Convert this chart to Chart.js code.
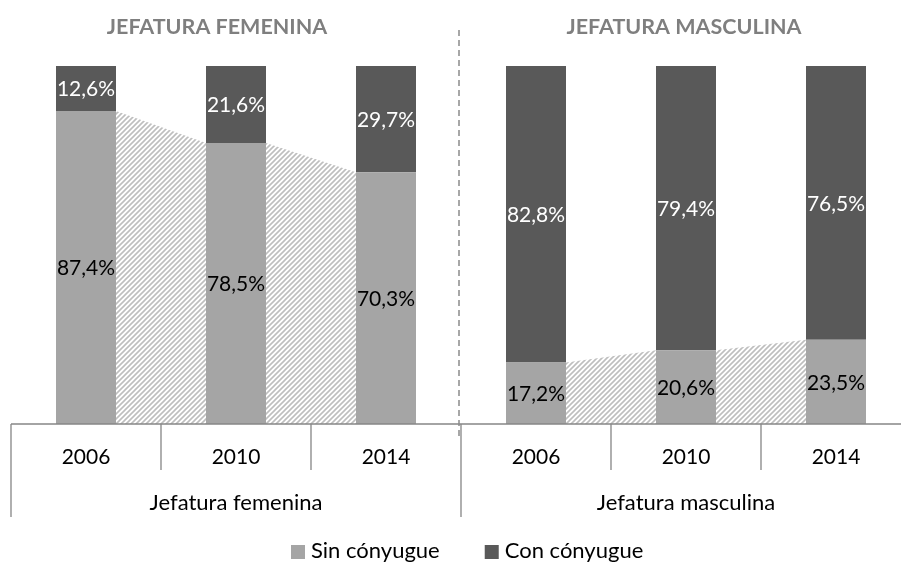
<!DOCTYPE html>
<html>
<head>
<meta charset="utf-8">
<script src="https://cdn.jsdelivr.net/npm/chart.js@4.4.1/dist/chart.umd.min.js"></script>
<style>
  html, body { margin: 0; padding: 0; background: #fff; overflow: hidden; }
  #wrap { width: 911px; height: 562px; }
</style>
</head>
<body>
<div id="wrap"><canvas id="chart"></canvas></div>
<script>
const years = ["2006", "2010", "2014", "2006", "2010", "2014"];
const groupOf = [0, 0, 0, 1, 1, 1];
const groups = ["Jefatura femenina", "Jefatura masculina"];
const groupTitles = ["JEFATURA FEMENINA", "JEFATURA MASCULINA"];
const sinConyugue = [87.4, 78.5, 70.3, 17.2, 20.6, 23.5];
const conConyugue = [12.6, 21.6, 29.7, 82.8, 79.4, 76.5];

const FONT = "Lato, 'Open Sans', sans-serif";
const AXIS = "#868686";

function fmt(v) { return v.toFixed(1).replace(".", ",") + "%"; }

function hatch(ctx) {
  const p = document.createElement("canvas");
  p.width = p.height = 5;
  const g = p.getContext("2d");
  g.fillStyle = "#fff";
  g.fillRect(0, 0, 5, 5);
  g.strokeStyle = "#bebebe";
  g.lineWidth = 1.6;
  g.beginPath();
  g.moveTo(-1, 6); g.lineTo(6, -1);
  g.moveTo(-3, 3); g.lineTo(3, -3);
  g.moveTo(2, 8); g.lineTo(8, 2);
  g.stroke();
  return ctx.createPattern(p, "repeat");
}

// zonas rayadas entre barras del mismo grupo
const bridges = {
  id: "bridges",
  beforeDatasetsDraw(chart) {
    const ctx = chart.ctx;
    const bars = chart.getDatasetMeta(0).data;
    ctx.save();
    ctx.fillStyle = hatch(ctx);
    for (let i = 0; i < bars.length - 1; i++) {
      if (groupOf[i] !== groupOf[i + 1]) continue;
      const a = bars[i], b = bars[i + 1];
      ctx.beginPath();
      ctx.moveTo(a.x + a.width / 2, a.y);
      ctx.lineTo(b.x - b.width / 2, b.y);
      ctx.lineTo(b.x - b.width / 2, b.base);
      ctx.lineTo(a.x + a.width / 2, a.base);
      ctx.closePath();
      ctx.fill();
    }
    ctx.restore();
  }
};

const labels = {
  id: "labels",
  afterDatasetsDraw(chart) {
    const ctx = chart.ctx;
    ctx.save();
    ctx.font = "21px " + FONT;
    ctx.textAlign = "center";
    ctx.textBaseline = "middle";
    chart.data.datasets.forEach((ds, di) => {
      chart.getDatasetMeta(di).data.forEach((bar, i) => {
        ctx.fillStyle = di === 0 ? "#000" : "#fff";
        ctx.fillText(fmt(ds.data[i]), bar.x, (bar.y + bar.base) / 2 + 1);
      });
    });
    ctx.restore();
  }
};

const frame = {
  id: "frame",
  afterDraw(chart) {
    const ctx = chart.ctx;
    const xs = chart.scales.x;
    const area = chart.chartArea;
    const y0 = area.bottom;
    const cw = xs.width / years.length;
    ctx.save();

    // eje y divisiones
    ctx.strokeStyle = AXIS;
    ctx.lineWidth = 1.3;
    ctx.beginPath();
    ctx.moveTo(xs.left, y0);
    ctx.lineTo(chart.width, y0);
    for (let i = 0; i <= years.length; i++) {
      const bx = xs.left + i * cw;
      const edge = i === 0 || i === years.length || groupOf[i] !== groupOf[i - 1];
      ctx.moveTo(bx, y0);
      ctx.lineTo(bx, y0 + (edge ? 93 : 46));
    }
    ctx.stroke();

    ctx.fillStyle = "#000";
    ctx.font = "21px " + FONT;
    ctx.textAlign = "center";
    ctx.textBaseline = "middle";
    years.forEach((y, i) => ctx.fillText(y, xs.getPixelForValue(i), y0 + 33));
    ctx.font = "22px " + FONT;
    groups.forEach((g, gi) => {
      const idx = groupOf.map((v, i) => v === gi ? i : -1).filter(i => i >= 0);
      const cx = (xs.getPixelForValue(idx[0]) + xs.getPixelForValue(idx[idx.length - 1])) / 2;
      ctx.fillText(g, cx, y0 + 79);
    });

    // separador discontinuo
    const sep = xs.left + 3 * cw - 2;
    ctx.strokeStyle = "#8a8a8a";
    ctx.lineWidth = 1.5;
    ctx.setLineDash([6, 4]);
    ctx.beginPath();
    ctx.moveTo(sep, 30);
    ctx.lineTo(sep, y0 + 12);
    ctx.stroke();
    ctx.setLineDash([]);

    // titulos
    ctx.fillStyle = "#7f7f7f";
    ctx.font = "bold 21.5px " + FONT;
    const titleX = [217, 684];
    groupTitles.forEach((t, i) => ctx.fillText(t, titleX[i], 27));

    // leyenda
    ctx.font = "22px " + FONT;
    ctx.textAlign = "left";
    let lx = 291;
    chart.data.datasets.forEach(ds => {
      ctx.fillStyle = ds.backgroundColor;
      ctx.fillRect(lx, 545, 14, 14);
      ctx.fillStyle = "#000";
      ctx.fillText(ds.label, lx + 20, 551);
      lx += 20 + ctx.measureText(ds.label).width + 45;
    });
    ctx.restore();
  }
};

new Chart(document.getElementById("chart"), {
  type: "bar",
  data: {
    labels: years,
    datasets: [
      { label: "Sin cónyugue", data: sinConyugue, backgroundColor: "#a5a5a5" },
      { label: "Con cónyugue", data: conConyugue, backgroundColor: "#595959" }
    ]
  },
  options: {
    responsive: true,
    maintainAspectRatio: false,
    animation: false,
    layout: { padding: { top: 66, bottom: 138, left: 11, right: 0 } },
    datasets: { bar: { barPercentage: 0.4, categoryPercentage: 1.0 } },
    plugins: { legend: { display: false }, tooltip: { enabled: false } },
    scales: {
      x: { stacked: true, display: false },
      y: { stacked: true, display: false, min: 0, max: 100 }
    }
  },
  plugins: [bridges, labels, frame]
});
</script>
</body>
</html>
